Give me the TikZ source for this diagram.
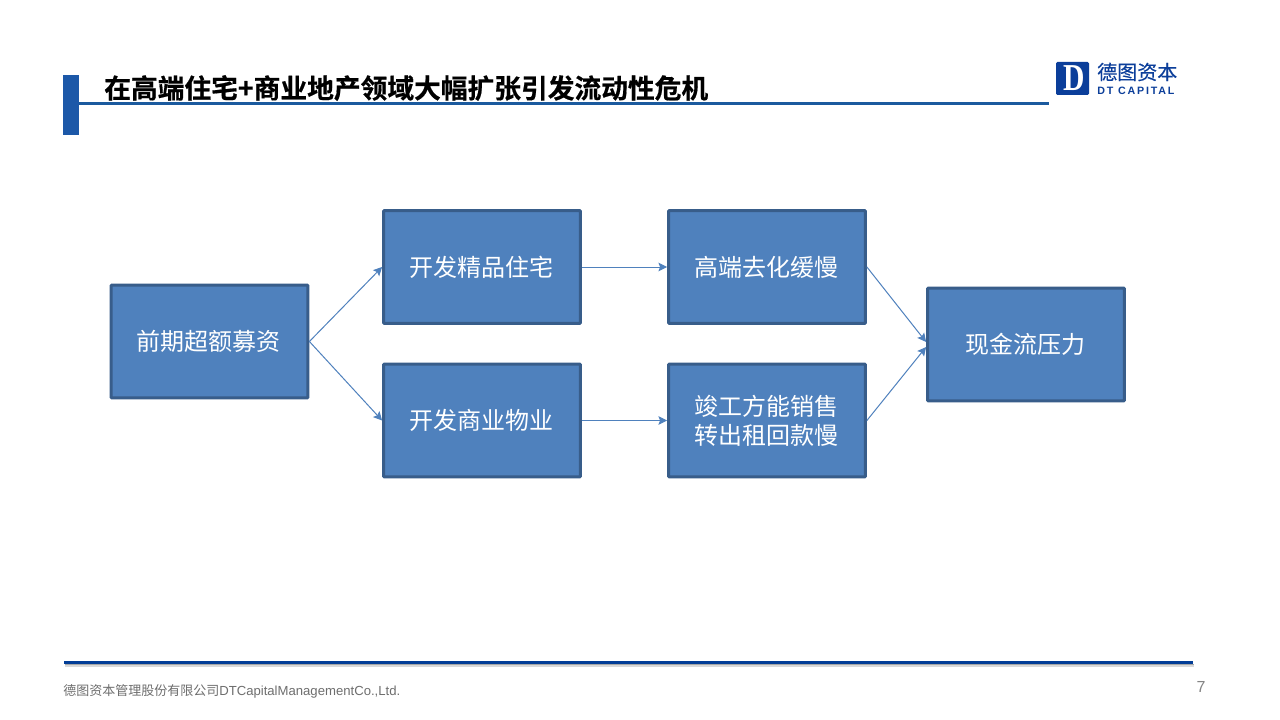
\documentclass[tikz,border=0pt]{standalone}
\usepackage{fontspec}
\setmainfont{Noto Sans CJK SC}
\newfontfamily\latinf{Liberation Sans}
\newfontfamily\logolatin[LetterSpace=17]{Liberation Sans}
\newfontfamily\boldcjk[FakeBold=0.6]{Noto Sans CJK SC Bold}
\newfontfamily\logocjk[FakeBold=0.2]{Noto Sans CJK SC}
\definecolor{boxfill}{HTML}{4F81BD}
\definecolor{boxline}{HTML}{385D8A}
\definecolor{titleblue}{HTML}{1C58A8}
\definecolor{ruleblue}{HTML}{1B5A9E}
\definecolor{footblue}{HTML}{023D96}
\definecolor{logoblue}{HTML}{0B3E9A}
\definecolor{footgray}{HTML}{6E6E6E}
\usetikzlibrary{arrows.meta,calc}
\tikzset{
  flowbox/.style={draw=boxline,fill=boxfill,line width=2.25pt,rounded corners=0.6pt,minimum width=147.6pt,minimum height=84.6pt,inner sep=0pt,text=white,font=\fontsize{18}{21.8}\selectfont,align=center},
  flowline/.style={draw=boxfill,line width=0.75pt,-{Stealth[length=6.5pt,width=6.5pt,inset=1.2pt]}}
}
\begin{document}
\begin{tikzpicture}[x=0.75pt,y=-0.75pt]
\useasboundingbox (0,0) rectangle (1280,720);
\fill[white] (0,0) rectangle (1280,720);
% header
\fill[titleblue] (63,75) rectangle (79,135);
\fill[ruleblue] (79,102) rectangle (1049,105.5);
\node[anchor=west,inner sep=0pt,font=\fontsize{20.05}{24}\selectfont\boldcjk] (title) at (104,88) {在高端住宅+商业地产领域大幅扩张引发流动性危机};
% logo
\fill[logoblue,rounded corners=1pt] (1056,62) rectangle (1089,95);
\node[white,inner sep=0pt,xscale=0.78,font=\fontsize{28.5}{29}\selectfont] (logod) at (1074,78) {\fontspec{Liberation Serif}\bfseries D};
\node[anchor=west,inner sep=0pt,text=logoblue,font=\fontsize{15}{18}\selectfont\logocjk] (logocn) at (1097,72) {德图资本};
\node[anchor=west,inner sep=0pt,text=logoblue,font=\fontsize{8}{10}\selectfont\logolatin\bfseries] (logoen) at (1097,90.5) {DT CAPITAL};
% boxes
\node[flowbox] (a) at (209.5,341.5) {\hspace{-1.5pt}\raisebox{-0.6pt}{前期超额募资}};
\node[flowbox] (b) at (482,267) {\hspace{-1.5pt}开发精品住宅};
\node[flowbox] (c) at (767,267) {\hspace{-1.5pt}高端去化缓慢};
\node[flowbox] (d) at (482,420.5) {\hspace{-1.5pt}开发商业物业};
\node[flowbox] (e) at (767,420.5) {\hspace{-1.5pt}竣工方能销售\\\hspace{-1.5pt}转出租回款慢};
\node[flowbox] (f) at (1026,344.5) {\hspace{-1.5pt}现金流压力};
% connectors
\coordinate (f1) at ($(f.west)+(0,-2.5)$);
\coordinate (f2) at ($(f.west)+(0,2.5)$);
\draw[flowline] (a.east) -- (b.west);
\draw[flowline] (a.east) -- (d.west);
\draw[flowline] (b.east) -- (c.west);
\draw[flowline] (d.east) -- (e.west);
\draw[flowline] (c.east) -- (f1);
\draw[flowline] (e.east) -- (f2);
% footer
\fill[black!15] (65,664) rectangle (1194,666.5);
\fill[black!35] (65,664) rectangle (1194,665.2);
\fill[footblue] (64,661) rectangle (1193,664);
\node[anchor=west,inner sep=0pt,text=footgray,font=\fontsize{9.75}{12}\selectfont] (foot) at (63,691) {德图资本管理股份有限公司{\fontsize{9.85}{12}\selectfont\latinf DTCapitalManagementCo.,Ltd.}};
\node[inner sep=0pt,text=footgray!85,font=\fontsize{12}{14}\selectfont\latinf] (pg) at (1201,687) {7};
\end{tikzpicture}
\end{document}
